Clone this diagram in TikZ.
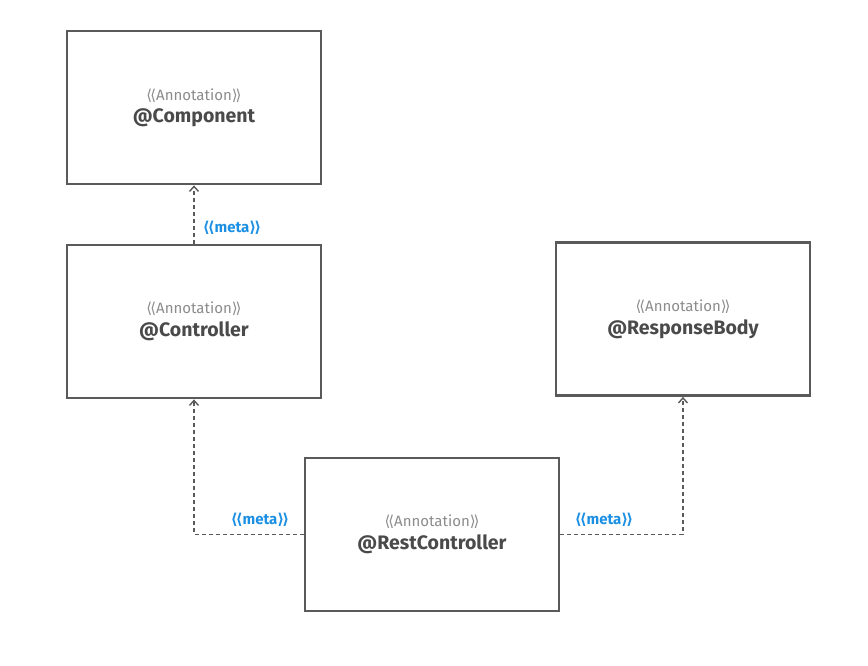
\documentclass[tikz,border=0pt]{standalone}
\usepackage{fontspec}
\setmainfont{Fira Sans}
\newfontfamily\symfont{DejaVu Sans}
\usetikzlibrary{arrows.meta}
\definecolor{boxline}{HTML}{5A5A5A}
\definecolor{nametxt}{HTML}{4A4A4A}
\definecolor{annottxt}{HTML}{8C8C8C}
\definecolor{metablue}{HTML}{1A8FE3}
\newcommand{\annot}[1]{{\fontsize{15}{16}\selectfont\color{annottxt}{\symfont\char"27E8\kern-2pt\char"27E8}#1{\symfont\char"27E9\kern-2pt\char"27E9}}}
\newcommand{\metalab}{{\symfont\bfseries\char"27E8\kern-2pt\char"27E8}meta{\symfont\bfseries\char"27E9\kern-2pt\char"27E9}}
\newcommand{\aname}[1]{{\fontsize{19.5}{21}\selectfont\bfseries #1}}
\tikzset{
  annobox/.style={draw=boxline, line width=2.8pt, fill=white, minimum width=254pt, minimum height=153pt, align=center, inner sep=0pt, text=nametxt},
  conn/.style={draw=boxline, line width=1.4pt, dash pattern=on 4pt off 3pt, -{Straight Barb[length=5pt,width=9pt,line width=1.4pt]}},
  metanode/.style={text=metablue, font=\fontsize{15}{16}\selectfont\bfseries, inner sep=1pt}
}
\begin{document}
\begin{tikzpicture}[x=1pt,y=-1pt]
\useasboundingbox (0,0) rectangle (868,665);
\node[annobox] (comp) at (194,107.5) {\annot{Annotation}\\[5pt]\aname{@Component}};
\node[annobox] (ctrl) at (194,321.5) {\annot{Annotation}\\[5pt]\aname{@Controller}};
\node[annobox] (resp) at (683,319) {\annot{Annotation}\\[5pt]\aname{@ResponseBody}};
\node[annobox] (rest) at (432,534.5) {\annot{Annotation}\\[5pt]\aname{@RestController}};
\draw[conn] (ctrl.north) -- (comp.south);
\draw[conn] (rest.west) -| (ctrl.south);
\draw[conn] (rest.east) -| (resp.south);
\node[metanode] (m1) at (232,228) {\metalab};
\node[metanode] (m2) at (260,520) {\metalab};
\node[metanode] (m3) at (604,520) {\metalab};
\end{tikzpicture}
\end{document}
